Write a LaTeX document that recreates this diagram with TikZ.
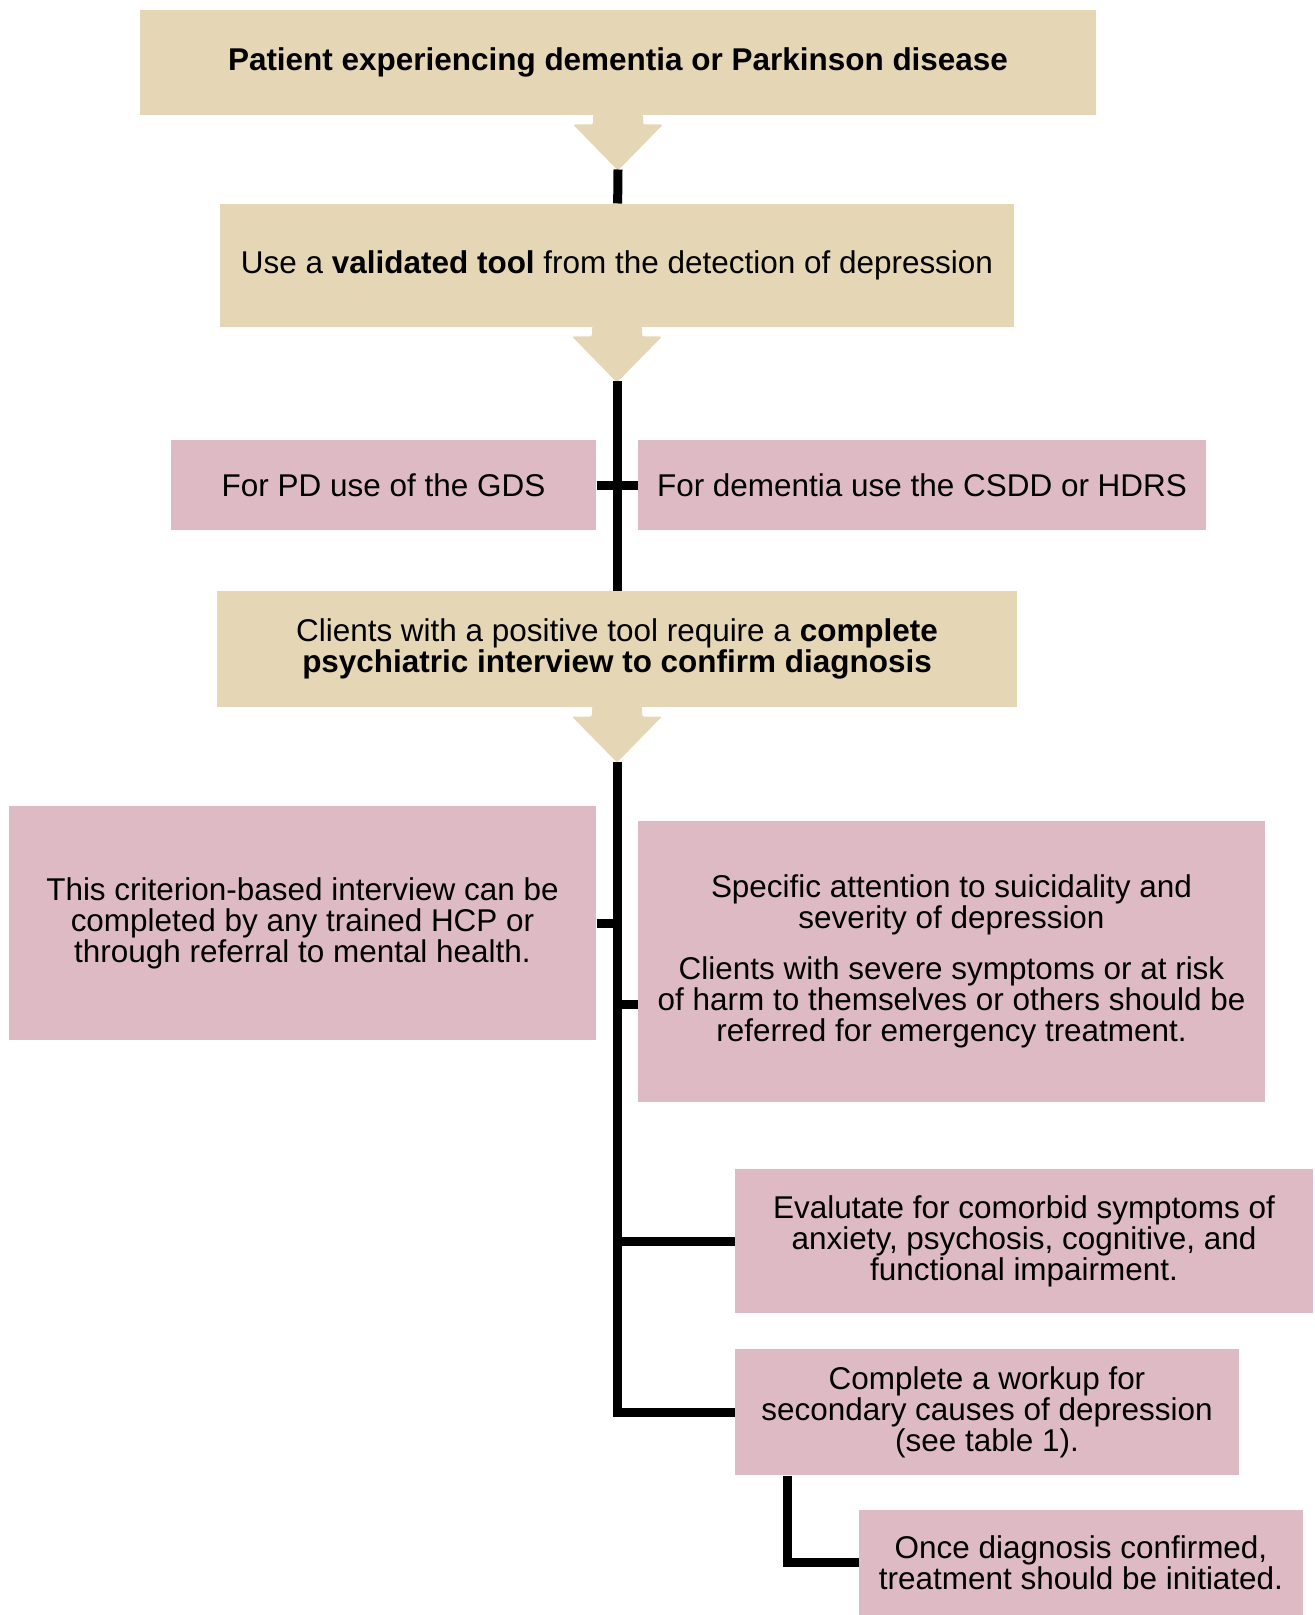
\documentclass[tikz,border=0pt]{standalone}
\usepackage{fontspec}
\setmainfont{Liberation Sans}

\definecolor{boxtan}{RGB}{229,214,181}
\definecolor{boxpink}{RGB}{222,187,196}

\tikzset{every picture/.style={line width=0.75pt}}
\tikzset{
  tanbox/.style={fill=boxtan, inner sep=0pt, align=center, font=\fontsize{23.6}{23.25}\selectfont},
  pinkbox/.style={fill=boxpink, inner sep=0pt, align=center, font=\fontsize{23.6}{23.25}\selectfont},
  wire/.style={line width=6.75pt}
}

% fat arrow under a box, tip named #2
\newcommand{\fatarrow}[2]{%
  \begin{scope}[shift={(#1.south)}]
    \fill[boxtan, rounded corners=1.5pt] (-25,-1) -- (-25,9) -- (-45,9) -- (0,55) -- (45,9) -- (25,9) -- (25,-1) -- cycle;
    \coordinate (#2) at (0,54);
  \end{scope}}

\begin{document}
\begin{tikzpicture}[x=0.75pt,y=0.75pt,yscale=-1]

\useasboundingbox (0,0) rectangle (1314,1615);

\node [tanbox, minimum width=717pt, minimum height=78.75pt] (patient) at (618,62.5) {\textbf{Patient experiencing dementia or Parkinson disease}};
\node [tanbox, minimum width=595.5pt, minimum height=92.25pt] (tool) at (617,265.5) {Use a \textbf{validated tool} from the detection of depression};
\node [pinkbox, minimum width=318.75pt, minimum height=67.5pt] (pd) at (383.5,485) {For PD use of the GDS};
\node [pinkbox, minimum width=426pt, minimum height=67.5pt] (dem) at (922,485) {For dementia use the CSDD or HDRS};
\node [tanbox, minimum width=600pt, minimum height=87pt] (interview) at (617,649) {Clients with a positive tool require a \textbf{complete}\\\textbf{psychiatric interview to confirm diagnosis}};
\node [pinkbox, minimum width=440.25pt, minimum height=175.5pt] (crit) at (302.5,923) {This criterion-based interview can be\\completed by any trained HCP or\\through referral to mental health.};
\node [pinkbox, minimum width=470.25pt, minimum height=210.75pt] (spec) at (951.5,961.5) {Specific attention to suicidality and\\severity of depression\\[15pt]Clients with severe symptoms or at risk\\of harm to themselves or others should be\\referred for emergency treatment.};
\node [pinkbox, minimum width=433.5pt, minimum height=108pt] (eval) at (1024,1241) {Evalutate for comorbid symptoms of\\anxiety, psychosis, cognitive, and\\functional impairment.};
\node [pinkbox, minimum width=378pt, minimum height=94.5pt] (workup) at (987,1412) {Complete a workup for\\secondary causes of depression\\(see table 1).};
\node [pinkbox, minimum width=333pt, minimum height=78.75pt] (treat) at (1081,1562.5) {Once diagnosis confirmed,\\treatment should be initiated.};

\fatarrow{patient}{a1}
\fatarrow{tool}{a2}
\fatarrow{interview}{a3}

\draw [wire] (a1) -- (tool);
\draw [wire] (a2) -- (interview);
\draw [wire] (pd) -- (dem);
\draw [wire] (a3) |- (workup);
\draw [wire] (crit) -- (crit -| a3);
\draw [wire] ([yshift=32pt]spec.west) -- ++(-25,0);
\draw [wire] (eval) -- (eval -| a3);
\draw [wire] ([xshift=39.75pt]workup.south west) |- (treat);

\end{tikzpicture}
\end{document}
